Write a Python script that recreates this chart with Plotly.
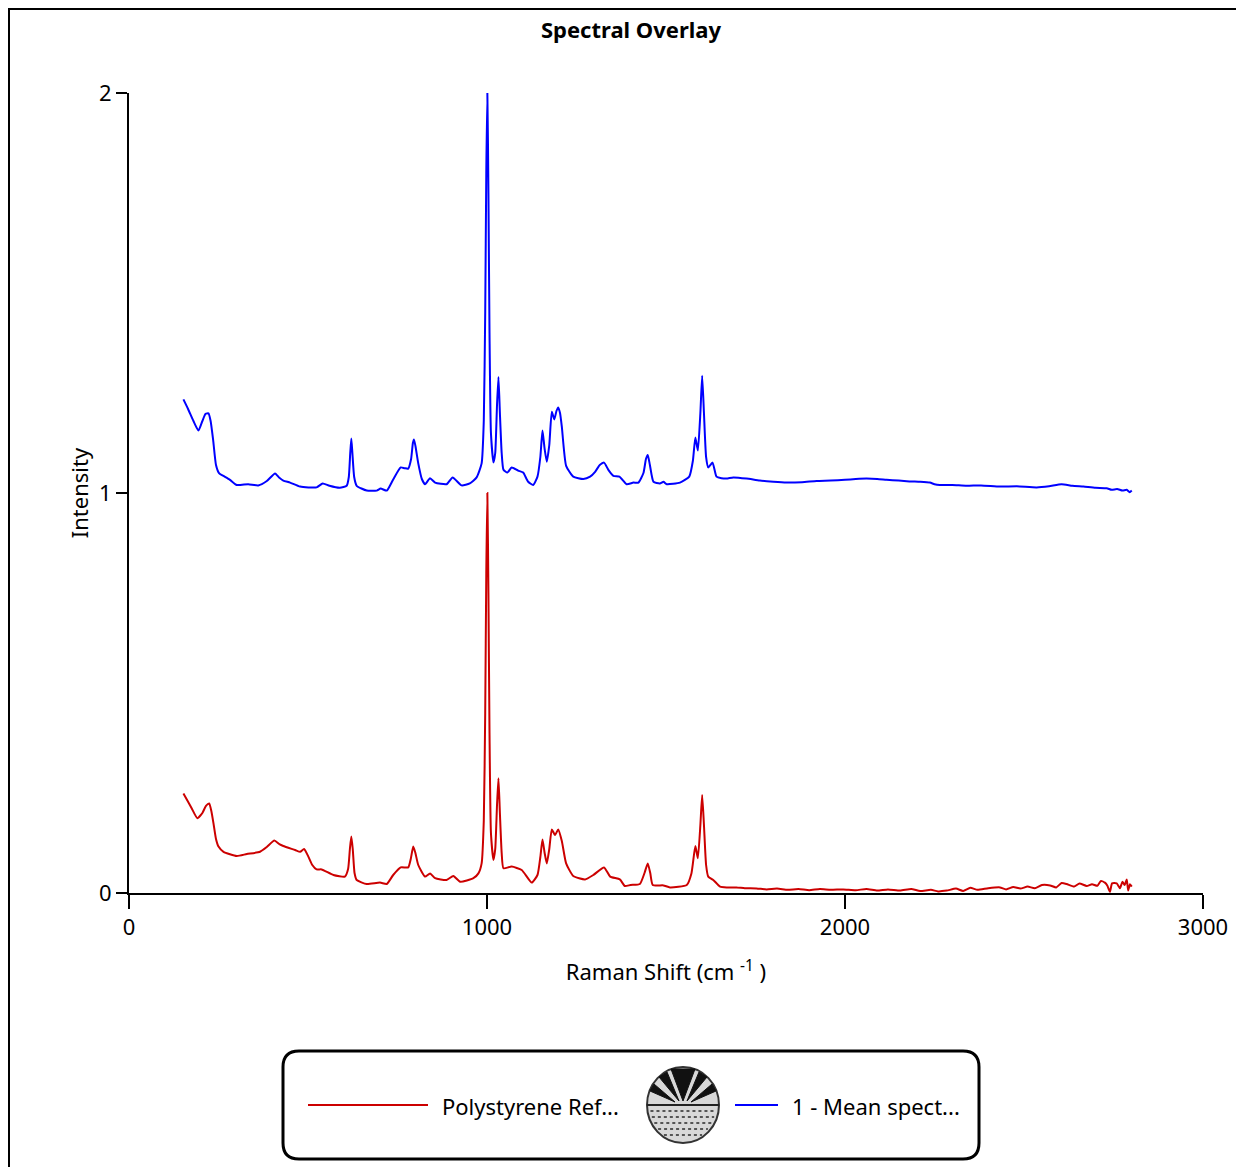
import plotly.graph_objects as go

# ---------------- data ----------------
blue_x = [152, 165, 180, 194, 205, 214, 222, 228, 235, 243, 252, 265, 282, 301, 333, 361, 385, 408, 420, 431,
          450, 478, 524, 541, 560, 589, 608, 614, 618, 621, 624, 629, 636, 664, 692, 703, 720, 738, 759, 770,
          780, 788, 793, 796, 800, 808, 818, 827, 841, 855, 887, 904, 929, 952, 971, 985, 991, 995, 998, 1001,
          1004, 1007, 1011, 1018, 1023, 1028, 1032, 1036, 1041, 1046, 1057, 1069, 1087, 1101, 1115, 1129, 1141,
          1149, 1155, 1161, 1167, 1174, 1181, 1188, 1194, 1199, 1204, 1209, 1221, 1241, 1269, 1288, 1302, 1315,
          1327, 1339, 1353, 1370, 1390, 1409, 1423, 1437, 1444, 1449, 1455, 1465, 1483, 1493, 1502, 1539, 1565,
          1575, 1582, 1589, 1596, 1601, 1606, 1612, 1618, 1630, 1641, 1655, 1669, 1688, 1725, 1762, 1800, 1837,
          1880, 1921, 1960, 2000, 2030, 2060, 2090, 2116, 2150, 2180, 2210, 2237, 2250, 2265, 2300, 2340, 2380,
          2433, 2480, 2535, 2570, 2605, 2635, 2666, 2700, 2731, 2745, 2760, 2775, 2787, 2795, 2801]
blue_y = [1.234, 1.21, 1.18, 1.156, 1.18, 1.198, 1.199, 1.18, 1.133, 1.07, 1.049, 1.042, 1.033, 1.02, 1.022,
          1.019, 1.03, 1.049, 1.038, 1.031, 1.026, 1.016, 1.014, 1.024, 1.018, 1.013, 1.018, 1.04, 1.10, 1.136,
          1.10, 1.04, 1.018, 1.006, 1.006, 1.011, 1.006, 1.034, 1.064, 1.062, 1.061, 1.085, 1.125, 1.134, 1.118,
          1.074, 1.035, 1.022, 1.037, 1.026, 1.022, 1.039, 1.019, 1.024, 1.039, 1.074, 1.18, 1.45, 1.8, 2.0,
          1.75, 1.4, 1.15, 1.076, 1.1, 1.22, 1.29, 1.2, 1.1, 1.058, 1.051, 1.064, 1.056, 1.051, 1.028, 1.02,
          1.041, 1.09, 1.156, 1.11, 1.078, 1.12, 1.203, 1.184, 1.205, 1.214, 1.2, 1.166, 1.068, 1.041, 1.035,
          1.041, 1.053, 1.07, 1.076, 1.058, 1.043, 1.041, 1.022, 1.026, 1.026, 1.05, 1.085, 1.095, 1.07, 1.028,
          1.024, 1.028, 1.022, 1.026, 1.041, 1.08, 1.139, 1.106, 1.2, 1.293, 1.2, 1.09, 1.064, 1.076, 1.041,
          1.037, 1.036, 1.039, 1.036, 1.031, 1.028, 1.026, 1.027, 1.03, 1.031, 1.033, 1.035, 1.036, 1.035,
          1.033, 1.031, 1.029, 1.028, 1.026, 1.022, 1.02, 1.02, 1.018, 1.019, 1.016, 1.017, 1.014, 1.017, 1.022,
          1.018, 1.016, 1.013, 1.012, 1.008, 1.01, 1.006, 1.008, 1.002, 1.006]

red_x = [152, 165, 175, 191, 205, 215, 224, 230, 236, 243, 250, 264, 301, 329, 366, 385, 406, 420, 431, 464,
         478, 489, 501, 512, 524, 538, 571, 603, 612, 617, 621, 625, 630, 636, 664, 701, 720, 738, 759, 780,
         787, 794, 800, 808, 827, 841, 855, 887, 906, 925, 962, 976, 985, 991, 995, 998, 1001, 1004, 1007, 1011,
         1018, 1023, 1028, 1032, 1036, 1041, 1046, 1069, 1097, 1125, 1141, 1149, 1155, 1161, 1167, 1174, 1181,
         1190, 1199, 1209, 1221, 1241, 1274, 1297, 1327, 1344, 1371, 1385, 1401, 1427, 1440, 1449, 1456, 1463,
         1493, 1511, 1558, 1571, 1582, 1589, 1596, 1601, 1606, 1612, 1618, 1632, 1651, 1670, 1697, 1720, 1753,
         1781, 1810, 1840, 1870, 1900, 1930, 1960, 1995, 2030, 2060, 2090, 2120, 2154, 2185, 2210, 2240, 2260,
         2284, 2310, 2330, 2350, 2370, 2400, 2433, 2450, 2470, 2490, 2510, 2530, 2550, 2573, 2590, 2605, 2619,
         2640, 2655, 2675, 2690, 2705, 2715, 2726, 2733, 2740, 2746, 2759, 2768, 2775, 2781, 2787, 2791, 2796,
         2801]
red_y = [0.249, 0.228, 0.212, 0.187, 0.2, 0.218, 0.224, 0.205, 0.174, 0.135, 0.116, 0.103, 0.0925, 0.0975,
         0.103, 0.115, 0.131, 0.122, 0.1175, 0.1075, 0.103, 0.11, 0.091, 0.07, 0.059, 0.059, 0.045, 0.041, 0.06,
         0.11, 0.141, 0.11, 0.05, 0.0325, 0.0225, 0.026, 0.0225, 0.045, 0.064, 0.064, 0.085, 0.116, 0.1, 0.07,
         0.041, 0.049, 0.037, 0.0325, 0.0425, 0.028, 0.037, 0.049, 0.074, 0.18, 0.45, 0.8, 1.0, 0.75, 0.4, 0.15,
         0.0825, 0.11, 0.22, 0.287, 0.2, 0.1, 0.062, 0.066, 0.0575, 0.026, 0.045, 0.09, 0.134, 0.1, 0.074, 0.11,
         0.159, 0.145, 0.159, 0.13, 0.074, 0.0425, 0.034, 0.045, 0.064, 0.041, 0.034, 0.0175, 0.02, 0.0225,
         0.05, 0.074, 0.05, 0.02, 0.019, 0.014, 0.02, 0.049, 0.1175, 0.087, 0.17, 0.245, 0.17, 0.07, 0.041,
         0.0325, 0.016, 0.014, 0.014, 0.012, 0.0115, 0.009, 0.011, 0.008, 0.01, 0.007, 0.01, 0.008, 0.009,
         0.007, 0.01, 0.006, 0.009, 0.006, 0.01, 0.005, 0.008, 0.004, 0.006, 0.011, 0.005, 0.013, 0.008, 0.012,
         0.014, 0.009, 0.015, 0.011, 0.016, 0.012, 0.02, 0.019, 0.014, 0.025, 0.0225, 0.016, 0.024, 0.0175,
         0.022, 0.018, 0.03, 0.026, 0.018, 0.003, 0.024, 0.024, 0.012, 0.028, 0.02, 0.034, 0.006, 0.022, 0.016]

series_names = ["Polystyrene Ref...", "1 - Mean spect..."]
series_colors = ["#cc0000", "#0000ff"]
x_ticks = [0, 1000, 2000, 3000]
y_ticks = [0, 1, 2]

# ---------------- layout geometry (page pixels; figure sits 8px in from the page corner) ----------------
OFF = 8
W, H = 1236, 1159
L, R, T, B = 121, 41, 85, 274
PW, PH = W - L - R, H - T - B


def px(x):
    return (x - OFF - L) / PW


def py(y):
    return (H - B - (y - OFF)) / PH


FONT = "Noto Sans, Open Sans, sans-serif"
FS = 22

fig = go.Figure()
fig.add_trace(go.Scatter(x=red_x, y=red_y, mode="lines", name=series_names[0],
                         line=dict(color=series_colors[0], width=2, shape="spline", smoothing=0.5)))
fig.add_trace(go.Scatter(x=blue_x, y=blue_y, mode="lines", name=series_names[1],
                         line=dict(color=series_colors[1], width=2, shape="spline", smoothing=0.5)))

shapes = []
# outer frame
shapes.append(dict(type="rect", xref="paper", yref="paper",
                   x0=px(9), x1=px(1262), y0=py(1185), y1=py(9),
                   line=dict(color="black", width=2), fillcolor="rgba(0,0,0,0)"))


def rounded(x0, y0, x1, y1, r):
    pts = [
        f"M {px(x0 + r)} {py(y0)}",
        f"L {px(x1 - r)} {py(y0)}",
        f"Q {px(x1)} {py(y0)} {px(x1)} {py(y0 + r)}",
        f"L {px(x1)} {py(y1 - r)}",
        f"Q {px(x1)} {py(y1)} {px(x1 - r)} {py(y1)}",
        f"L {px(x0 + r)} {py(y1)}",
        f"Q {px(x0)} {py(y1)} {px(x0)} {py(y1 - r)}",
        f"L {px(x0)} {py(y0 + r)}",
        f"Q {px(x0)} {py(y0)} {px(x0 + r)} {py(y0)}",
        "Z",
    ]
    return " ".join(pts)


shapes.append(dict(type="path", xref="paper", yref="paper", path=rounded(283, 1051, 979, 1159, 16),
                   line=dict(color="black", width=3), fillcolor="white"))
# legend sample lines
shapes.append(dict(type="line", xref="paper", yref="paper", x0=px(308), x1=px(428), y0=py(1105), y1=py(1105),
                   line=dict(color=series_colors[0], width=2)))
shapes.append(dict(type="line", xref="paper", yref="paper", x0=px(735), x1=px(778), y0=py(1105), y1=py(1105),
                   line=dict(color=series_colors[1], width=2)))

# icon (decorative logo)
cx, cy, rx, ry = 683, 1105, 36, 38
shapes.append(dict(type="circle", xref="paper", yref="paper", x0=px(cx - rx), x1=px(cx + rx),
                   y0=py(cy + ry), y1=py(cy - ry), line=dict(color="#333333", width=2), fillcolor="#d8d8d8"))
ray_paths = [
    (cx, cy - 4, cx - 12, cy - ry + 2, cx + 12, cy - ry + 2),
    (cx - 4, cy - 4, cx - 24, cy - 28, cx - 16, cy - 33),
    (cx + 4, cy - 4, cx + 24, cy - 28, cx + 16, cy - 33),
    (cx - 8, cy - 3, cx - 33, cy - 14, cx - 29, cy - 21),
    (cx + 8, cy - 3, cx + 33, cy - 14, cx + 29, cy - 21),
]
for ax_, ay_, bx_, by_, c2x, c2y in ray_paths:
    shapes.append(dict(type="path", xref="paper", yref="paper",
                       path=f"M {px(ax_)} {py(ay_)} L {px(bx_)} {py(by_)} L {px(c2x)} {py(c2y)} Z",
                       line=dict(color="#111111", width=1), fillcolor="#111111"))
shapes.append(dict(type="line", xref="paper", yref="paper", x0=px(cx - rx), x1=px(cx + rx), y0=py(cy), y1=py(cy),
                   line=dict(color="#222222", width=2)))
for dy in [6, 12, 18, 24, 30]:
    half = (rx ** 2 * (1 - (dy / ry) ** 2)) ** 0.5 - 3
    shapes.append(dict(type="line", xref="paper", yref="paper", x0=px(cx - half), x1=px(cx + half),
                       y0=py(cy + dy), y1=py(cy + dy), line=dict(color="#555555", width=2, dash="dot")))

annotations = [
    dict(text=series_names[0], xref="paper", yref="paper", x=px(440), y=py(1106), xanchor="left",
         yanchor="middle", showarrow=False, font=dict(family=FONT, size=FS, color="black")),
    dict(text=series_names[1], xref="paper", yref="paper", x=px(790), y=py(1106), xanchor="left",
         yanchor="middle", showarrow=False, font=dict(family=FONT, size=FS, color="black")),
]

fig.update_layout(
    width=W, height=H,
    margin=dict(l=L, r=R, t=T, b=B, pad=0),
    paper_bgcolor="white", plot_bgcolor="white",
    showlegend=False,
    font=dict(family=FONT, size=FS, color="black"),
    title=dict(text="<b>Spectral Overlay</b>", x=(631 - OFF) / W, xref="container", xanchor="center",
               y=1 - (30 - OFF) / H, yref="container", yanchor="middle",
               font=dict(family=FONT, size=FS, color="black")),
    shapes=shapes,
    annotations=annotations,
    xaxis=dict(range=[0, 3000], tickvals=x_ticks, ticktext=[str(v) for v in x_ticks],
               showgrid=False, zeroline=False, showline=True, linecolor="black", linewidth=2,
               ticks="outside", ticklen=14, tickwidth=2, tickcolor="black",
               tickfont=dict(family=FONT, size=FS, color="black"),
               title=dict(text="Raman Shift (cm <sup>-1</sup> )", standoff=24,
                          font=dict(family=FONT, size=FS, color="black")),
               automargin=False),
    yaxis=dict(range=[0, 2], tickvals=y_ticks, ticktext=[str(v) for v in y_ticks],
               showgrid=False, zeroline=False, showline=True, linecolor="black", linewidth=2,
               ticks="outside", ticklen=11, tickwidth=2, tickcolor="black",
               tickfont=dict(family=FONT, size=FS, color="black"),
               title=dict(text="Intensity", standoff=4,
                          font=dict(family=FONT, size=FS, color="black")),
               automargin=False),
)

fig.write_html("out.html")
